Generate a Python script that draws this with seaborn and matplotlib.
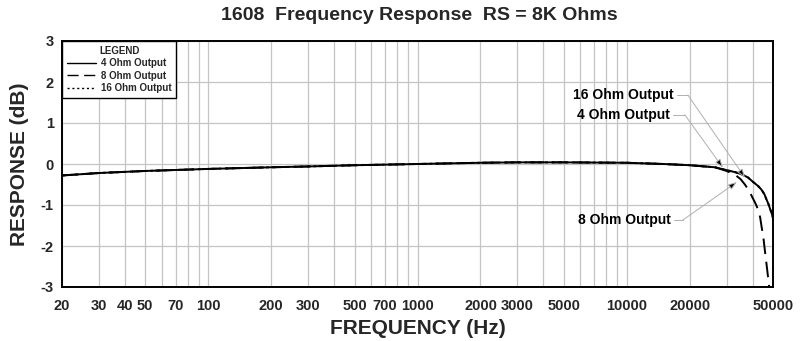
import matplotlib
matplotlib.use("Agg")
import matplotlib.pyplot as plt
import matplotlib.ticker as mticker
import numpy as np
import pandas as pd
import seaborn as sns

# ---- data ----
freq_flat = [20, 30, 50, 100, 200, 300, 500, 1000, 2000, 3000, 5000, 10000,
             15000, 20000, 26400]
resp_flat = [-0.28, -0.22, -0.17, -0.12, -0.08, -0.06, -0.03, 0.0, 0.03, 0.04,
             0.04, 0.03, 0.0, -0.03, -0.08]

freq_4 = freq_flat + [30000, 33000, 35400, 38000, 40000, 42500, 44100, 45500,
                      46500, 47500, 48300, 49200, 50000]
resp_4 = resp_flat + [-0.15, -0.2, -0.25, -0.33, -0.43, -0.54, -0.63, -0.74,
                      -0.86, -0.97, -1.08, -1.19, -1.32]

freq_16 = freq_4
resp_16 = resp_4

freq_8 = freq_flat + [30000, 32900, 35000, 36700, 38500, 40000, 41300, 42500,
                      43400, 44100, 45000, 45700, 46400, 46900, 47400, 47800, 48100]
resp_8 = resp_flat + [-0.17, -0.26, -0.37, -0.5, -0.66, -0.83, -0.97, -1.12,
                      -1.3, -1.53, -1.8, -2.1, -2.38, -2.58, -2.78, -2.95, -3.08]

series_names = ["4 Ohm Output", "8 Ohm Output", "16 Ohm Output"]

x_label_ticks = [20, 30, 40, 50, 70, 100, 200, 300, 500, 700, 1000, 2000, 3000,
                 5000, 10000, 20000, 50000]
x_grid = [20, 30, 40, 50, 60, 70, 80, 90, 100, 200, 300, 400, 500, 600, 700, 800,
          900, 1000, 2000, 3000, 4000, 5000, 6000, 7000, 8000, 9000, 10000, 20000,
          30000, 40000, 50000]
y_ticks = [-3, -2, -1, 0, 1, 2, 3]

title = "1608  Frequency Response  RS = 8K Ohms"

# annotations: (label, text anchor, elbow, arrow tip)
ann_text = ["16 Ohm Output", "4 Ohm Output", "8 Ohm Output"]
ann_text_xy = [(16700, 1.68), (16000, 1.2), (16200, -1.37)]
ann_elbow = [(19600, 1.68), (18950, 1.2), (18500, -1.37)]
ann_tip = [(36700, -0.33), (28800, -0.09), (33600, -0.44)]

# ---- build table ----
df = pd.concat([
    pd.DataFrame({"freq": freq_4, "resp": resp_4, "series": series_names[0]}),
    pd.DataFrame({"freq": freq_8, "resp": resp_8, "series": series_names[1]}),
    pd.DataFrame({"freq": freq_16, "resp": resp_16, "series": series_names[2]}),
])

sns.set_style("white")
plt.rcParams["font.family"] = ["Liberation Sans", "DejaVu Sans"]

fig = plt.figure(figsize=(8.04, 3.41), dpi=100)
ax = fig.add_axes([62 / 804, 1 - 287 / 341, (773 - 62) / 804, (287 - 41) / 341])

styles = {series_names[0]: "-", series_names[1]: (0, (8, 4)),
          series_names[2]: (0, (1.5, 2))}
for name in series_names:
    sub = df[df["series"] == name]
    sns.lineplot(data=sub, x="freq", y="resp", ax=ax, color="black",
                 linewidth=1.4, linestyle=styles[name], label=name,
                 estimator=None, sort=False)

ax.set_xscale("log")
ax.set_xlim(20, 50000)
ax.set_ylim(-3, 3)

ax.xaxis.set_major_locator(mticker.FixedLocator(x_label_ticks))
ax.xaxis.set_major_formatter(mticker.FixedFormatter([str(v) for v in x_label_ticks]))
ax.xaxis.set_minor_locator(mticker.FixedLocator(x_grid))
ax.xaxis.set_minor_formatter(mticker.NullFormatter())
ax.set_yticks(y_ticks)
ax.set_yticklabels([str(v) for v in y_ticks])

ax.grid(True, which="both", axis="x", color="#c4c4c4", linewidth=0.9)
ax.grid(True, which="major", axis="y", color="#c4c4c4", linewidth=0.9)
ax.set_axisbelow(True)
ax.tick_params(axis="both", which="both", length=0)
ax.tick_params(axis="x", pad=9)
ax.tick_params(axis="y", pad=6)
for lab in ax.get_xticklabels():
    lab.set_fontfamily(["Liberation Sans Narrow", "Liberation Sans"])
    lab.set_fontweight("bold")
    lab.set_fontsize(10.5)
for lab in ax.get_yticklabels():
    lab.set_fontweight("bold")
    lab.set_fontsize(10.5)

for sp in ax.spines.values():
    sp.set_color("black")
    sp.set_linewidth(1.4)

ax.set_xlabel("FREQUENCY (Hz)", fontsize=15, fontweight="bold",
              family=["Liberation Sans Narrow", "Liberation Sans"], labelpad=4)
ax.set_ylabel("RESPONSE (dB)", fontsize=15, fontweight="bold", labelpad=8)
fig.suptitle(title, x=0.522, y=0.98, fontsize=14, fontweight="bold", va="top")

leg = ax.legend(loc="upper left", bbox_to_anchor=(0, 1), borderaxespad=0,
                title="LEGEND", fancybox=False, frameon=True, framealpha=1,
                edgecolor="black", prop={"size": 7, "weight": "bold"},
                handlelength=3.0, handletextpad=0.5, labelspacing=0.25,
                borderpad=0.5)
leg.get_title().set_fontsize(7)
leg.get_title().set_fontweight("bold")
leg.get_frame().set_linewidth(1.0)
for line in leg.get_lines():
    line.set_linewidth(1.0)

for txt, txy, el, tip in zip(ann_text, ann_text_xy, ann_elbow, ann_tip):
    ax.text(txy[0], txy[1], txt, ha="right", va="center", fontsize=10,
            fontweight="bold", color="black")
    ax.plot([txy[0] * 1.04, el[0]], [txy[1], el[1]], color="#b0b0b0", lw=0.7)
    ax.annotate("", xy=tip, xytext=el,
                arrowprops=dict(arrowstyle="-|>,head_length=0.5,head_width=0.18",
                                color="#b0b0b0", lw=0.7, shrinkA=0, shrinkB=0,
                                fc="black", ec="#b0b0b0"))

fig.savefig("out.png", dpi=100)
